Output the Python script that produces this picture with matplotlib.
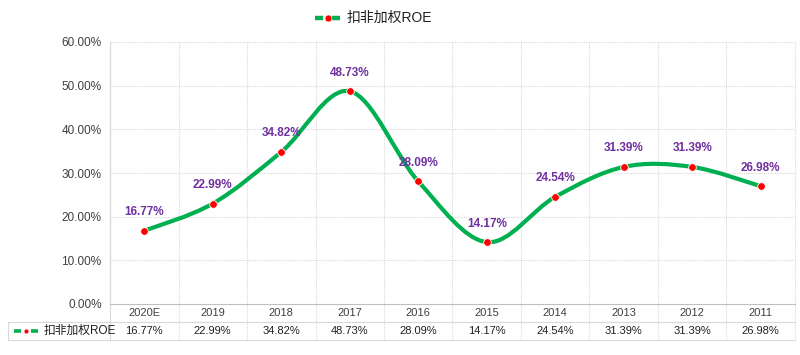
import matplotlib.pyplot as plt
from matplotlib.path import Path
from matplotlib.patches import PathPatch
from matplotlib.lines import Line2D

plt.rcParams['font.family'] = ['Liberation Sans', 'Noto Sans CJK SC', 'DejaVu Sans']

years = ["2020E", "2019", "2018", "2017", "2016", "2015", "2014", "2013", "2012", "2011"]
roe = [16.77, 22.99, 34.82, 48.73, 28.09, 14.17, 24.54, 31.39, 31.39, 26.98]
series_name = "扣非加权ROE"
yticks = [0, 10, 20, 30, 40, 50, 60]

GREEN = "#00B050"
RED = "#FF0000"
PURPLE = "#7030A0"
GRID = "#D9D9D9"

fig = plt.figure(figsize=(8, 3.55), dpi=100)
ax = fig.add_axes([110 / 800, 1 - 304 / 355, 685 / 800, 262 / 355])

n = len(years)
xs = list(range(n))

# smoothed line (Excel style bezier)
verts = [(xs[0], roe[0])]
codes = [Path.MOVETO]
for i in range(n - 1):
    p0 = (xs[max(i - 1, 0)], roe[max(i - 1, 0)])
    p1 = (xs[i], roe[i])
    p2 = (xs[i + 1], roe[i + 1])
    p3 = (xs[min(i + 2, n - 1)], roe[min(i + 2, n - 1)])
    c1 = (p1[0] + (p2[0] - p0[0]) / 6, p1[1] + (p2[1] - p0[1]) / 6)
    c2 = (p2[0] - (p3[0] - p1[0]) / 6, p2[1] - (p3[1] - p1[1]) / 6)
    verts += [c1, c2, p2]
    codes += [Path.CURVE4] * 3
ax.add_patch(PathPatch(Path(verts, codes), fill=False, edgecolor=GREEN, lw=3, zorder=3))
ax.plot(xs, roe, "o", color=RED, markersize=5.5, markeredgecolor="white",
        markeredgewidth=0.6, zorder=4)

for x, v in zip(xs, roe):
    ax.annotate(f"{v:.2f}%", (x, v), xytext=(0, 9), textcoords="offset points",
                ha="center", va="bottom", color=PURPLE, fontsize=8.5, fontweight="bold")

ax.set_xlim(-0.5, n - 0.5)
ax.set_ylim(0, 60)
ax.set_yticks(yticks)
ax.set_yticklabels([f"{t:.2f}%" for t in yticks], fontsize=8.5, color="#404040")
ax.set_xticks([])
ax.tick_params(axis="y", length=0, pad=6)
for y in yticks[1:]:
    ax.axhline(y, color=GRID, lw=0.8, ls=(0, (1, 1)), zorder=1)
for s in ["top", "right"]:
    ax.spines[s].set_visible(False)
ax.spines["left"].set_color(GRID)
ax.spines["bottom"].set_color("#BFBFBF")

# category boundaries extended through the table
tr = ax.get_xaxis_transform()
row1 = -18 / 262
row2 = -36 / 262
for i in range(n + 1):
    ls = "-" if i == 0 else (0, (1, 1))
    ax.plot([i - 0.5, i - 0.5], [1, row2], color=GRID, lw=0.8, ls=ls,
            transform=tr, clip_on=False, zorder=1)
ax.plot([-0.5, n - 0.5], [row1, row1], color=GRID, lw=0.8, transform=tr, clip_on=False)
ax.plot([-0.5, n - 0.5], [row2, row2], color=GRID, lw=0.8, transform=tr, clip_on=False)
fig.add_artist(Line2D([8 / 800, 110 / 800], [1 - 322 / 355] * 2, color=GRID, lw=0.8))
fig.add_artist(Line2D([8 / 800, 110 / 800], [1 - 340 / 355] * 2, color=GRID, lw=0.8))
fig.add_artist(Line2D([8 / 800, 8 / 800], [1 - 322 / 355, 1 - 340 / 355], color=GRID, lw=0.8))

for x, yr, v in zip(xs, years, roe):
    ax.text(x, (0 + row1) / 2, yr, transform=tr, ha="center", va="center", fontsize=8, color="#404040")
    ax.text(x, (row1 + row2) / 2, f"{v:.2f}%", transform=tr, ha="center", va="center",
            fontsize=8, color="#202020")


def legend_key(x0, yc, w_dash, gap, lw, dot):
    # green dash, red dot, green dash (pixel units)
    y = 1 - yc / 355
    fig.add_artist(Line2D([x0 / 800, (x0 + w_dash) / 800], [y, y], color=GREEN, lw=lw,
                          solid_capstyle="butt"))
    x2 = x0 + w_dash + 2 * gap
    fig.add_artist(Line2D([x2 / 800, (x2 + w_dash) / 800], [y, y], color=GREEN, lw=lw,
                          solid_capstyle="butt"))
    fig.add_artist(Line2D([(x0 + w_dash + gap) / 800], [y], color=RED, marker="o",
                          markersize=dot, markeredgecolor="white", markeredgewidth=0.4, lw=0))


# legend key inside table
legend_key(14, 331, 7, 5, 2.6, 3.5)
fig.text(44 / 800, 1 - 331 / 355, series_name, ha="left", va="center", fontsize=8.5, color="#202020")

# top legend
legend_key(315, 18, 8, 4.5, 3.2, 5)
fig.text(347 / 800, 1 - 18 / 355, series_name, ha="left", va="center", fontsize=10, color="#202020")

fig.savefig("out.png", dpi=100, facecolor="white")
